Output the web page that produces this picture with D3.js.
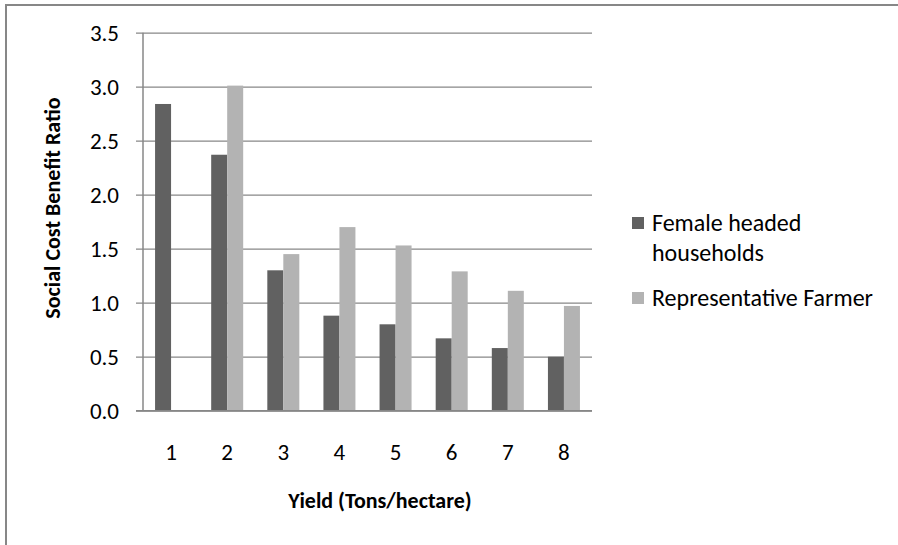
<!DOCTYPE html>
<html>
<head>
<meta charset="utf-8">
<script src="https://cdn.jsdelivr.net/npm/d3@7"></script>
<style>
  html, body { margin: 0; padding: 0; background: #fff; }
  svg text { font-family: Carlito, Calibri, Lato, sans-serif; fill: #000; }
</style>
</head>
<body>
<svg id="chart" width="898" height="545"></svg>
<script>
// Yield categories (tons/hectare)
const categories = ["1", "2", "3", "4", "5", "6", "7", "8"];
// Social cost benefit ratio per yield level
const femaleHeaded = [2.84, 2.37, 1.30, 0.88, 0.80, 0.67, 0.58, 0.50];
const representativeFarmer = [null, 3.01, 1.45, 1.70, 1.53, 1.29, 1.11, 0.97];
const seriesNames = ["Female headed households", "Representative Farmer"];
const yTicks = [0, 0.5, 1.0, 1.5, 2.0, 2.5, 3.0, 3.5];

const colors = ["#616161", "#b3b3b3"];
const gridColor = "#878787";

const svg = d3.select("#chart");

// chart frame
svg.append("path")
  .attr("d", "M6,545 V5 H898")
  .attr("fill", "none")
  .attr("stroke", gridColor)
  .attr("stroke-width", 2);

const plot = { left: 143, right: 592, top: 32.7, bottom: 410.7 };

const x = d3.scaleBand()
  .domain(categories)
  .range([plot.left, plot.right])
  .paddingInner(0)
  .paddingOuter(0);

const y = d3.scaleLinear()
  .domain([0, 3.5])
  .range([plot.bottom, plot.top]);

const barW = 16;

// horizontal gridlines with outward ticks
const yAxis = d3.axisLeft(y)
  .tickValues(yTicks)
  .tickFormat(d3.format(".1f"))
  .tickSize(-(plot.right - plot.left));

const gy = svg.append("g")
  .attr("transform", `translate(${plot.left},0)`)
  .call(yAxis);
gy.select(".domain").remove();
gy.selectAll(".tick line")
  .attr("x1", -7)
  .attr("stroke", gridColor)
  .attr("stroke-width", 1.3);
gy.selectAll(".tick text")
  .attr("font-size", 23)
  .attr("x", -24);

// vertical axis line
svg.append("line")
  .attr("x1", plot.left).attr("x2", plot.left)
  .attr("y1", plot.top).attr("y2", plot.bottom)
  .attr("stroke", gridColor)
  .attr("stroke-width", 1.5);

// bars
const series = [femaleHeaded, representativeFarmer];
series.forEach((vals, si) => {
  svg.append("g")
    .selectAll("rect")
    .data(categories.map((c, i) => ({ c, v: vals[i] })).filter(d => d.v != null))
    .join("rect")
    .attr("x", d => x(d.c) + x.bandwidth() / 2 - barW + si * barW)
    .attr("y", d => y(d.v))
    .attr("width", barW)
    .attr("height", d => y(0) - y(d.v))
    .attr("fill", colors[si]);
});

// baseline
svg.append("line")
  .attr("x1", plot.left - 7).attr("x2", plot.right)
  .attr("y1", plot.bottom).attr("y2", plot.bottom)
  .attr("stroke", gridColor)
  .attr("stroke-width", 1.5);

// category labels
const xAxis = d3.axisBottom(x).tickSize(0).tickPadding(0);
const gx = svg.append("g")
  .attr("transform", `translate(0,${plot.bottom})`)
  .call(xAxis);
gx.select(".domain").remove();
gx.selectAll(".tick text")
  .attr("font-size", 23)
  .attr("dy", null)
  .attr("y", 49);

// axis titles
svg.append("text")
  .attr("x", 380)
  .attr("y", 508)
  .attr("text-anchor", "middle")
  .attr("font-size", 22)
  .attr("font-weight", "bold")
  .text("Yield (Tons/hectare)");

svg.append("text")
  .attr("transform", "translate(60,208) rotate(-90)")
  .attr("text-anchor", "middle")
  .attr("font-size", 22)
  .attr("font-weight", "bold")
  .text("Social Cost Benefit Ratio");

// legend
const legend = svg.append("g");
const legendItems = [
  { lines: ["Female headed", "households"], y: 231 },
  { lines: ["Representative Farmer"], y: 306 }
];
legendItems.forEach((item, i) => {
  legend.append("rect")
    .attr("x", 632).attr("y", item.y - 14)
    .attr("width", 12).attr("height", 12)
    .attr("fill", colors[i]);
  const t = legend.append("text")
    .attr("x", 652)
    .attr("y", item.y)
    .attr("font-size", 24);
  item.lines.forEach((ln, j) => {
    t.append("tspan")
      .attr("x", 652)
      .attr("dy", j === 0 ? 0 : 30)
      .text(ln);
  });
});
</script>
</body>
</html>
